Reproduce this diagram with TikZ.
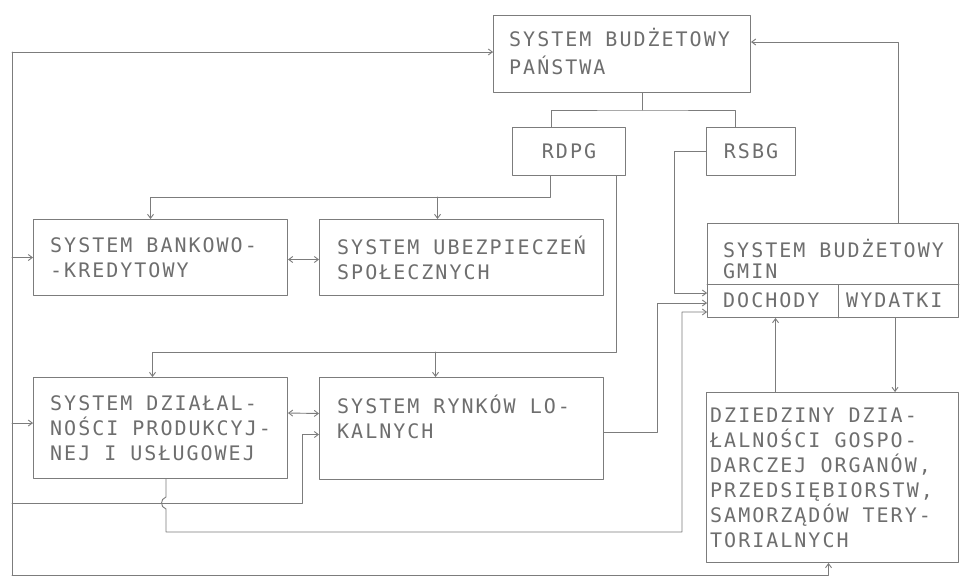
\documentclass[tikz,border=0pt]{standalone}
\usepackage{fontspec}
\usetikzlibrary{arrows.meta,calc}
\newfontfamily\plotfont{DejaVu Sans Mono}[LetterSpace=10]
\definecolor{plotLine}{HTML}{7C7C7C}
\definecolor{plotInk}{HTML}{6E6E6E}

\begin{document}
\begin{tikzpicture}[x=1pt,y=-1pt,>={Straight Barb[length=4pt,width=6pt]},line cap=round,line join=round]
\path[fill=white,use as bounding box] (0,0) rectangle (961,578);
\tikzset{box/.style={draw=plotLine,line width=1pt,anchor=north west,inner sep=0pt},txt/.style={align=left,inner sep=0pt,text=plotInk,font=\plotfont\fontsize{20}{25}\selectfont},wire/.style={draw=plotLine,line width=0.9pt}}
% boxes
\node[box,minimum width=257,minimum height=77] (sbp) at (493,15) {};
\node[box,minimum width=113,minimum height=48] (rdpg) at (512,127) {};
\node[box,minimum width=89,minimum height=48] (rsbg) at (706,127) {};
\node[box,minimum width=254,minimum height=76] (sbk) at (33,219) {};
\node[box,minimum width=284,minimum height=76] (sus) at (319,219) {};
\node[box,minimum width=251,minimum height=94] (sbg) at (707,223) {};
\node[box,minimum width=254,minimum height=101] (sdp) at (33,377) {};
\node[box,minimum width=284,minimum height=102] (srl) at (319,377) {};
\node[box,minimum width=252,minimum height=170] (ddg) at (706,392) {};
\draw[wire] ([yshift=-14]sbg.west) -- ([yshift=-14]sbg.east);
\draw[wire] ([xshift=5.5]sbg.south) -- ++(0,-33);
% texts
\node[txt,anchor=west,font=\plotfont\fontsize{20}{28}\selectfont] (sbpText) at ([xshift=16,yshift=2]sbp.west) {SYSTEM BUDŻETOWY\\PAŃSTWA};
\node[txt] (rdpgText) at (rdpg.center) {RDPG};
\node[txt] (rsbgText) at (rsbg.center) {RSBG};
\node[txt,anchor=west] (sbkText) at ([xshift=17]sbk.west) {SYSTEM BANKOWO-\\-KREDYTOWY};
\node[txt,anchor=west] (susText) at ([xshift=18]sus.west) {SYSTEM UBEZPIECZEŃ\\SPOŁECZNYCH};
\node[txt,anchor=west,font=\plotfont\fontsize{20}{21}\selectfont] (sbgText) at ([xshift=16,yshift=12]sbg.west) {SYSTEM BUDŻETOWY\\GMIN};
\node[txt,anchor=west] (dochText) at ([xshift=16,yshift=-30]sbg.west) {DOCHODY};
\node[txt,anchor=west] (wydText) at ([xshift=139,yshift=-30]sbg.west) {WYDATKI};
\node[txt,anchor=west] (sdpText) at ([xshift=17]sdp.west) {SYSTEM DZIAŁAL-\\NOŚCI PRODUKCYJ-\\NEJ I USŁUGOWEJ};
\coordinate (srlTop) at ([xshift=18]srl.west |- sdpText.north);
\node[txt,anchor=north west] (srlText) at (srlTop) {SYSTEM RYNKÓW LO-\\KALNYCH};
\node[txt,anchor=west] (ddgText) at ([xshift=4]ddg.west) {DZIEDZINY DZIA-\\ŁALNOŚCI GOSPO-\\DARCZEJ ORGANÓW,\\PRZEDSIĘBIORSTW,\\SAMORZĄDÓW TERY-\\TORIALNYCH};
% left bus
\coordinate (lt) at (12,52);
\coordinate (lb) at (12,575);
\coordinate (srlIn) at (302,503);
\coordinate (sdpIn) at ([yshift=5]sdp.west);
\draw[wire,->] (lt) -- (sbp.west |- lt);
\draw[wire] (lt) -- (lb);
\draw[wire,->] (lb) -| ([xshift=-4]ddg.south);
\draw[wire,->] (lt |- sbk.west) -- (sbk.west);
\draw[wire,->] (lt |- sdpIn) -- (sdpIn);
\draw[wire,->] (lt |- srlIn) -- (srlIn) |- ([yshift=-6]srl.west);
% central budget
\coordinate (bus) at (642,110);
\draw[wire] (sbp.south -| bus) -- (bus);
\draw[wire] ([xshift=-18]rdpg.north) |- (bus) -| ([xshift=-16]rsbg.north);
\coordinate (rA) at (550,197);
\coordinate (susIn) at ([xshift=-24]sus.north);
\draw[wire,->] (rdpg.south -| rA) -- (rA) -| ([xshift=-10]sbk.north);
\draw[wire,->] (susIn |- rA) -- (susIn);
\coordinate (rB) at (616,352);
\coordinate (srlDown) at ([xshift=-26]srl.north);
\draw[wire,->] (rdpg.south -| rB) -- (rB) -| ([xshift=-8]sdp.north);
\draw[wire,->] (srlDown |- rB) -- (srlDown);
\draw[wire,<->] ([yshift=-2]sbk.east) -- ([yshift=-2]sus.west);
\draw[wire,<->] ([yshift=15]sdp.east) -- ([yshift=15]srl.west);
% into the gmina budget
\coordinate (gA) at (674,293);
\coordinate (gB) at (657,303);
\coordinate (gC) at (682,312);
\coordinate (hop) at (166,503);
\coordinate (dC) at (166,532);
\draw[wire,->] (rsbg.west) -| (gA) -- (sbg.west |- gA);
\draw[wire,->] ([yshift=-4]srl.east) -| (gB) -- (sbg.west |- gB);
\draw[wire,->] (sdp.south -| hop) -- ([yshift=6]hop) .. controls +(-6,2) and +(-6,-2) .. ([yshift=-6]hop) -- (dC) -| (gC) -- (sbg.west |- gC);
\coordinate (rt) at (898,42);
\draw[wire,->] (sbg.north -| rt) -- (rt) -- (sbp.east |- rt);
\coordinate (ddgUp) at ([xshift=-57]ddg.north);
\coordinate (sbgDown) at ([xshift=62]sbg.south);
\draw[wire,->] (ddgUp) -- (ddgUp |- sbg.south);
\draw[wire,->] (sbgDown) -- (sbgDown |- ddg.north);
\end{tikzpicture}
\end{document}
